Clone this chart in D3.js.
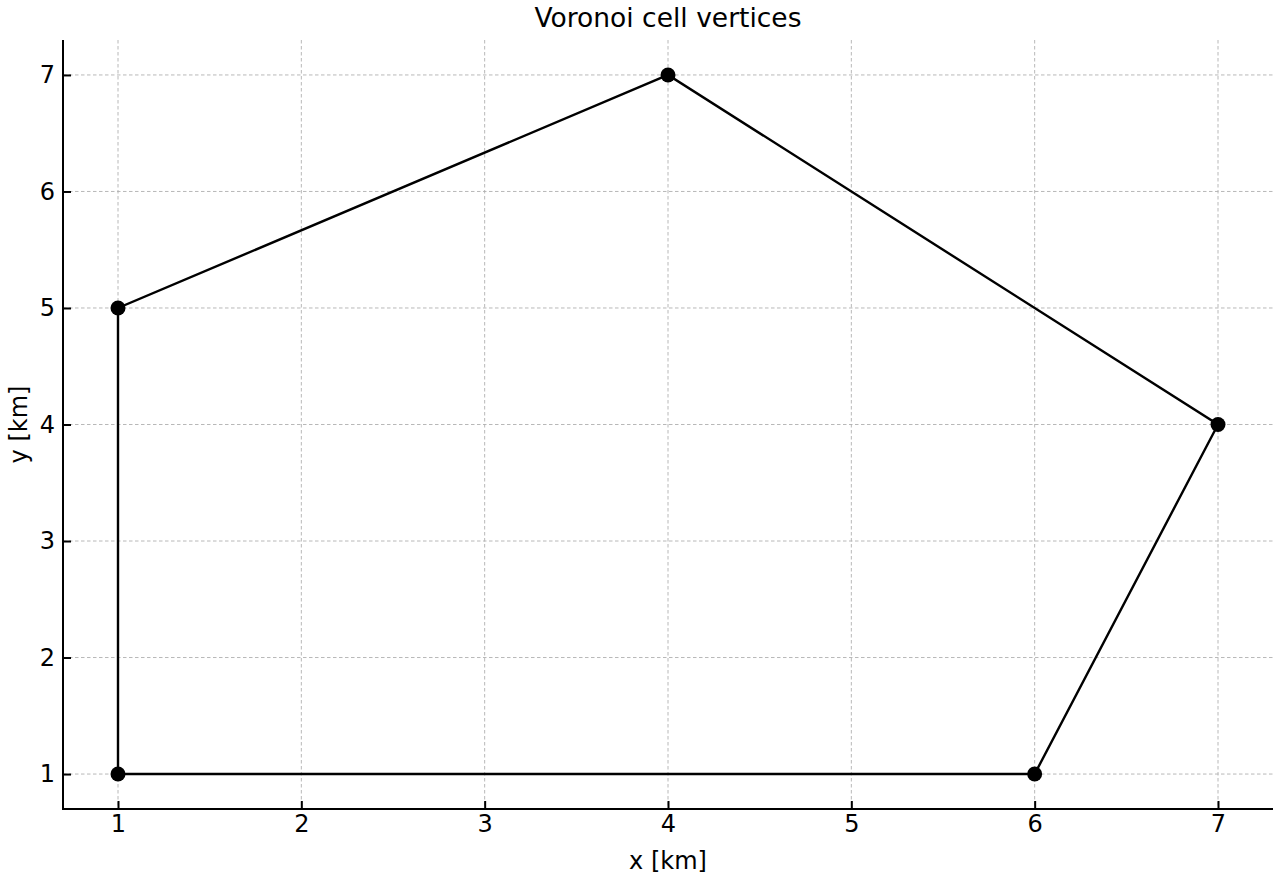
<!DOCTYPE html>
<html><head><meta charset="utf-8">
<script src="https://cdn.jsdelivr.net/npm/d3@7"></script>
<style>body{margin:0;background:#fff}svg{font-family:"DejaVu Sans",sans-serif}</style>
</head><body>
<svg id="c" width="1280" height="880"></svg>
<script>
const xs = [1, 6, 7, 4, 1];
const ys = [1, 1, 4, 7, 5];
const xTicks = [1, 2, 3, 4, 5, 6, 7];
const yTicks = [1, 2, 3, 4, 5, 6, 7];
const title = "Voronoi cell vertices";
const xLabel = "x [km]";
const yLabel = "y [km]";

const svg = d3.select("#c");
const m = {l: 63, r: 1273, t: 40, b: 809};
const x = d3.scaleLinear().domain([0.7, 7.3]).range([m.l, m.r]);
const y = d3.scaleLinear().domain([0.7, 7.3]).range([m.b, m.t]);

// grid
svg.append("g").selectAll("line").data(xTicks).join("line")
  .attr("x1", d => x(d)).attr("x2", d => x(d)).attr("y1", m.t).attr("y2", m.b)
  .attr("stroke", "#b0b0b0").attr("stroke-width", 0.9).attr("stroke-dasharray", "3.5,2.5");
svg.append("g").selectAll("line").data(yTicks).join("line")
  .attr("y1", d => y(d)).attr("y2", d => y(d)).attr("x1", m.l).attr("x2", m.r)
  .attr("stroke", "#b0b0b0").attr("stroke-width", 0.9).attr("stroke-dasharray", "3.5,2.5");

// axes
const xa = svg.append("g").attr("transform", `translate(0,${m.b})`)
  .call(d3.axisBottom(x).tickValues(xTicks).tickSize(-8).tickPadding(6).tickFormat(d3.format("d")));
const ya = svg.append("g").attr("transform", `translate(${m.l},0)`)
  .call(d3.axisLeft(y).tickValues(yTicks).tickSize(-8).tickPadding(8).tickFormat(d3.format("d")));
[xa, ya].forEach(a => {
  a.attr("font-size", null).attr("font-family", null);
  a.select(".domain").remove();
  a.selectAll(".tick line").attr("stroke", "#000").attr("stroke-width", 2);
  a.selectAll(".tick text").style("font-size", "24px").attr("fill", "#000").style("font-family", "DejaVu Sans");
});
svg.append("line").attr("x1", m.l).attr("x2", m.l).attr("y1", m.t).attr("y2", m.b + 1).attr("stroke", "#000").attr("stroke-width", 2);
svg.append("line").attr("x1", m.l - 1).attr("x2", m.r).attr("y1", m.b).attr("y2", m.b).attr("stroke", "#000").attr("stroke-width", 2);

// polygon
const pts = xs.map((v, i) => [v, ys[i]]);
const closed = pts.concat([pts[0]]);
svg.append("path").datum(closed)
  .attr("d", d3.line().x(d => x(d[0])).y(d => y(d[1])))
  .attr("fill", "none").attr("stroke", "#000").attr("stroke-width", 2.4);
svg.append("g").selectAll("circle").data(pts).join("circle")
  .attr("cx", d => x(d[0])).attr("cy", d => y(d[1])).attr("r", 7.5).attr("fill", "#000");

// labels
svg.append("text").attr("x", (m.l + m.r) / 2).attr("y", 27).attr("text-anchor", "middle")
  .style("font-size", "26.5px").text(title);
svg.append("text").attr("x", (m.l + m.r) / 2).attr("y", 869).attr("text-anchor", "middle")
  .style("font-size", "24px").text(xLabel);
svg.append("text").attr("transform", `translate(27,${(m.t + m.b) / 2}) rotate(-90)`).attr("text-anchor", "middle")
  .style("font-size", "24px").text(yLabel);
</script>
</body></html>
